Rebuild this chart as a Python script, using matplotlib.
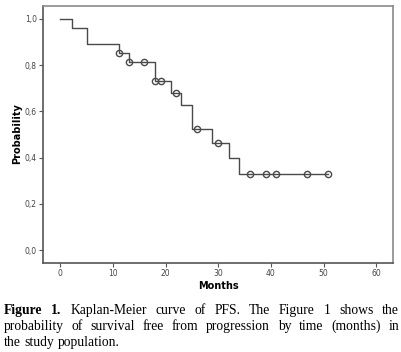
import matplotlib
matplotlib.use('Agg')
import matplotlib.pyplot as pl
import numpy as np

# step times (months) and survival after each step
step_times = [0, 2.2, 5.1, 11.1, 13.0, 18.0, 21.1, 23.0, 25.0, 28.9, 32.1, 34.0]
step_surv = [1.0, 0.962, 0.892, 0.854, 0.814, 0.730, 0.680, 0.628, 0.524, 0.465, 0.400, 0.330]
# censored observations
cens_times = [11.1, 13.0, 15.9, 18.0, 19.1, 22.0, 25.9, 30.0, 36.0, 39.0, 41.0, 46.9, 50.9]
end_time = 50.9

xticks = [0, 10, 20, 30, 40, 50, 60]
yticks = [0.0, 0.2, 0.4, 0.6, 0.8, 1.0]
ytick_labels = ['0,0', '0,2', '0,4', '0,6', '0,8', '1,0']

caption_lines = [
    ['Figure', '1.', 'Kaplan-Meier', 'curve', 'of', 'PFS.', 'The', 'Figure', '1', 'shows', 'the'],
    ['probability', 'of', 'survival', 'free', 'from', 'progression', 'by', 'time', '(months)', 'in'],
    ['the', 'study', 'population.'],
]
bold_words = 2  # "Figure 1." at start of the caption

W, H = 402, 352
fig = pl.figure(figsize=(W / 100, H / 100), dpi=100)
ax = fig.add_axes([43 / W, 1 - 263 / H, 350 / W, 257 / H])


def surv_at(t):
    idx = np.searchsorted(step_times, t, side='right') - 1
    return step_surv[idx]


xs = list(step_times) + [end_time]
ys = list(step_surv) + [step_surv[-1]]
ax.step(xs, ys, where='post', color='#4a4a4a', lw=1.0)
ax.plot(cens_times, [surv_at(t) for t in cens_times], linestyle='none', marker='o',
        markersize=4.5, markerfacecolor='none', markeredgecolor='#4a4a4a', markeredgewidth=1.0)

ax.set_xlim(-3.3, 63.2)
ax.set_ylim(-0.056, 1.056)
ax.set_xticks(xticks)
ax.set_yticks(yticks)
ax.set_yticklabels(ytick_labels)
ax.tick_params(labelsize=5.5, labelcolor='#444444', length=3, width=0.8, color='#555555', pad=1.5)
for s in ax.spines.values():
    s.set_color('#8a8a8a')
    s.set_linewidth(1.2)
ax.spines['left'].set_color('#555555')
ax.spines['bottom'].set_color('#555555')
ax.set_ylabel('Probability', fontsize=7, fontweight='bold', va='center')
ax.yaxis.set_label_coords((17 - 43) / 350, (263 - 134) / 257)
ax.set_xlabel('Months', fontsize=7, fontweight='bold', va='center')
ax.xaxis.set_label_coords((218 - 43) / 350, -(286 - 263) / 257)

# justified caption
fig.canvas.draw()
renderer = fig.canvas.get_renderer()
left, right = 4, 399
fs = 9.8
baselines = [314, 330, 346]
k = 0
for i, words in enumerate(caption_lines):
    texts = []
    for w in words:
        weight = 'bold' if k < bold_words else 'normal'
        k += 1
        texts.append(fig.text(0, 0, w, fontsize=fs, family='Liberation Serif',
                              fontweight=weight, va='baseline'))
    widths = [t.get_window_extent(renderer).width for t in texts]
    if i < len(caption_lines) - 1:
        gap = (right - left - sum(widths)) / (len(words) - 1)
    else:
        gap = 3.4
    x = left
    for t, w in zip(texts, widths):
        t.set_position((x / W, 1 - baselines[i] / H))
        x += w + gap

fig.savefig('out.png', dpi=100)
